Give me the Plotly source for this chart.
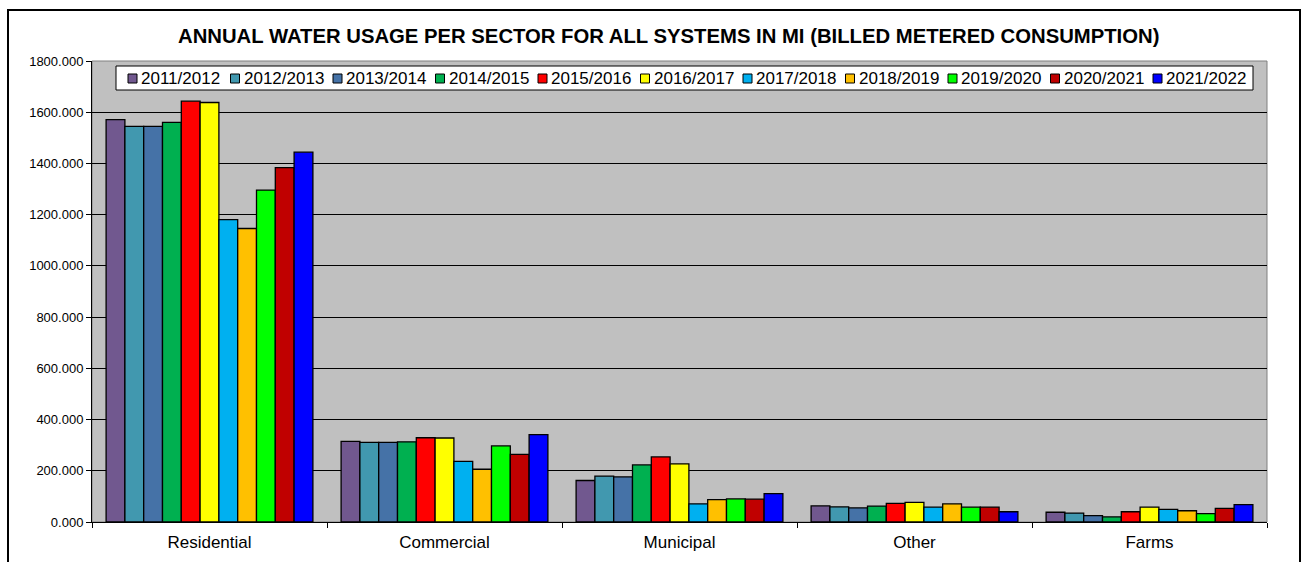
import plotly.graph_objects as go

# Sectors along the x axis
sectors = ["Residential", "Commercial", "Municipal", "Other", "Farms"]

# Fiscal-year series
years = ["2011/2012", "2012/2013", "2013/2014", "2014/2015", "2015/2016",
         "2016/2017", "2017/2018", "2018/2019", "2019/2020", "2020/2021",
         "2021/2022"]

# Billed metered consumption per sector, one list per fiscal year
usage_2011_2012 = [1571, 315, 162, 63, 38]
usage_2012_2013 = [1545, 311, 179, 59, 35]
usage_2013_2014 = [1545, 311, 176, 55, 25]
usage_2014_2015 = [1560, 313, 223, 62, 20]
usage_2015_2016 = [1643, 329, 254, 73, 40]
usage_2016_2017 = [1638, 328, 227, 77, 58]
usage_2017_2018 = [1181, 237, 71, 58, 49]
usage_2018_2019 = [1146, 206, 87, 71, 44]
usage_2019_2020 = [1296, 297, 90, 58, 33]
usage_2020_2021 = [1384, 264, 89, 58, 53]
usage_2021_2022 = [1444, 341, 111, 40, 68]

series_values = [usage_2011_2012, usage_2012_2013, usage_2013_2014,
                 usage_2014_2015, usage_2015_2016, usage_2016_2017,
                 usage_2017_2018, usage_2018_2019, usage_2019_2020,
                 usage_2020_2021, usage_2021_2022]

colors = ["#71588F", "#4198AF", "#4572A7", "#00B050", "#FF0000", "#FFFF00",
          "#00B0F0", "#FFC000", "#00FF00", "#C00000", "#0000FF"]

y_ticks = [0, 200, 400, 600, 800, 1000, 1200, 1400, 1600, 1800]

FONT = "Arial, Liberation Sans, sans-serif"
W, H = 1309, 562
ML, MR, MT, MB = 92, 42, 61, 40


def px_x(px):
    return (px - ML) / (W - ML - MR)


def px_y(py):
    return (H - MB - py) / (H - MT - MB)


fig = go.Figure()
for name, vals, col in zip(years, series_values, colors):
    fig.add_trace(go.Bar(
        name=name, x=sectors, y=vals,
        marker=dict(color=col, line=dict(color="#000000", width=1.3)),
        showlegend=False,
    ))

shapes = []
annotations = []

# outer chart frame
shapes.append(dict(type="rect", xref="paper", yref="paper",
                   x0=px_x(8), x1=px_x(1300), y0=px_y(600), y1=px_y(10),
                   line=dict(color="#000000", width=2), layer="above"))
# plot-area border
shapes.append(dict(type="rect", xref="paper", yref="paper",
                   x0=0, x1=1, y0=0, y1=1,
                   line=dict(color="#808080", width=1), layer="below"))

# legend box with a swatch and label per series
lg_x0, lg_x1, lg_y0, lg_y1 = 116, 1253, 66, 90
shapes.append(dict(type="rect", xref="paper", yref="paper",
                   x0=px_x(lg_x0), x1=px_x(lg_x1), y0=px_y(lg_y1), y1=px_y(lg_y0),
                   fillcolor="#FFFFFF", line=dict(color="#000000", width=1),
                   layer="above"))
pitch = 102.5
for i, (name, col) in enumerate(zip(years, colors)):
    sx = 128 + i * pitch
    shapes.append(dict(type="rect", xref="paper", yref="paper",
                       x0=px_x(sx), x1=px_x(sx + 9), y0=px_y(83), y1=px_y(74),
                       fillcolor=col, line=dict(color="#000000", width=1),
                       layer="above"))
    annotations.append(dict(xref="paper", yref="paper", x=px_x(sx + 11),
                            y=px_y(78.5), text=name, showarrow=False,
                            xanchor="left", yanchor="middle",
                            font=dict(family=FONT, size=17, color="#000000")))

# chart title
annotations.append(dict(xref="paper", yref="paper", x=px_x(668), y=px_y(36),
                        text="<b>ANNUAL WATER USAGE PER SECTOR FOR ALL SYSTEMS IN MI (BILLED METERED CONSUMPTION)</b>",
                        showarrow=False, xanchor="center", yanchor="middle",
                        font=dict(family=FONT, size=20.3, color="#000000")))

fig.update_layout(
    width=W, height=H,
    margin=dict(l=ML, r=MR, t=MT, b=MB, pad=0, autoexpand=False),
    paper_bgcolor="#FFFFFF",
    plot_bgcolor="#C0C0C0",
    barmode="group",
    bargap=0.12,
    bargroupgap=0,
    showlegend=False,
    shapes=shapes,
    annotations=annotations,
    font=dict(family=FONT, color="#000000"),
)

fig.update_xaxes(
    type="category",
    automargin=False,
    tickson="boundaries",
    ticks="outside", ticklen=5, tickcolor="#000000", tickwidth=1,
    ticklabelstandoff=5,
    showline=True, linecolor="#000000", linewidth=1,
    showgrid=False,
    tickfont=dict(family=FONT, size=17, color="#000000"),
)

fig.update_yaxes(
    automargin=False,
    range=[0, 1800],
    tickvals=y_ticks,
    tickformat=".3f",
    ticks="outside", ticklen=5, tickcolor="#000000", tickwidth=1,
    showline=True, linecolor="#000000", linewidth=1,
    showgrid=True, gridcolor="#000000", gridwidth=1,
    zeroline=False,
    tickfont=dict(family=FONT, size=13, color="#000000"),
)

fig.write_html("out.html")
